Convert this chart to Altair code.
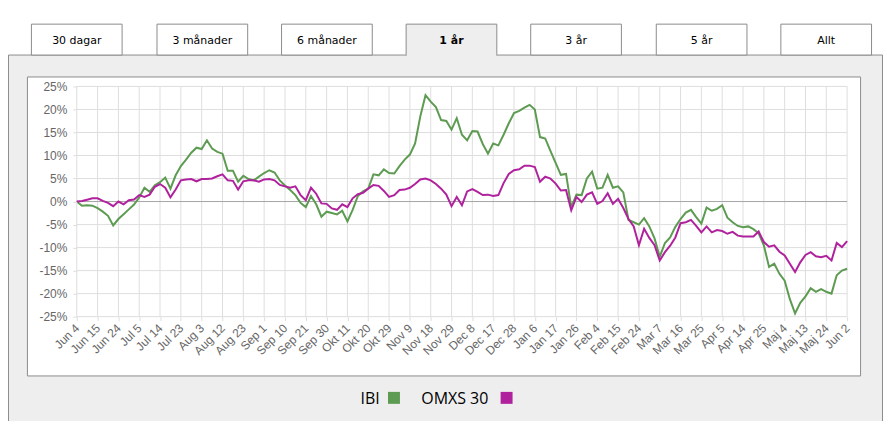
import math
import altair as alt
import pandas as pd

# ---------------- data ----------------
labels = ["Jun 4", "Jun 15", "Jun 24", "Jul 5", "Jul 14", "Jul 23", "Aug 3", "Aug 12",
          "Aug 23", "Sep 1", "Sep 10", "Sep 21", "Sep 30", "Okt 11", "Okt 20", "Okt 29",
          "Nov 9", "Nov 18", "Nov 29", "Dec 8", "Dec 17", "Dec 28", "Jan 6", "Jan 17",
          "Jan 26", "Feb 4", "Feb 15", "Feb 24", "Mar 7", "Mar 16", "Mar 25", "Apr 5",
          "Apr 14", "Apr 25", "Maj 4", "Maj 13", "Maj 24", "Jun 2"]

ibi = [0.0, -0.9, -0.8, -0.9, -1.45, -2.2, -3.1, -5.2,
       -3.8, -2.75, -1.7, -0.65, 0.9, 3.0, 2.1, 3.55,
       4.2, 5.2, 2.8, 5.7, 7.7, 9.1, 10.6, 11.7,
       11.4, 13.3, 11.5, 10.8, 10.4, 6.7, 6.7, 4.3,
       5.6, 4.9, 4.6, 5.4, 6.2, 6.8, 6.3, 4.6,
       3.5, 2.5, 1.4, -0.3, -1.2, 1.2, -0.6, -3.3,
       -2.2, -2.5, -2.8, -2.0, -4.3, -1.8, 1.2, 2.2,
       2.8, 5.9, 5.7, 7.0, 6.2, 6.1, 7.7, 9.1,
       10.2, 12.6, 18.5, 23.1, 21.7, 20.5, 17.7, 17.5,
       15.6, 18.1, 14.5, 13.3, 15.3, 15.2, 12.5, 10.4,
       12.6, 12.2, 14.5, 17.0, 19.2, 19.7, 20.4, 21.0,
       20.0, 14.0, 13.7, 11.0, 8.4, 5.8, 6.0, -1.2,
       1.5, 1.4, 5.0, 6.5, 2.8, 3.0, 5.8, 3.0,
       3.3, 2.0, -4.0, -4.5, -5.0, -3.6, -5.4, -8.0,
       -12.0, -9.0, -7.8, -5.5, -3.8, -2.4, -1.8, -3.4,
       -4.8, -1.3, -2.0, -1.6, -0.8, -3.5, -4.5, -5.3,
       -5.6, -5.4, -6.0, -6.9, -9.5, -14.2, -13.5, -15.7,
       -17.2, -21.2, -24.3, -22.0, -20.6, -18.8, -19.6, -19.0,
       -19.6, -20.0, -16.0, -15.0, -14.6]

omx = [0.0, 0.1, 0.4, 0.7, 0.7, 0.15, -0.3, -1.0,
       0.0, -0.6, 0.3, 0.45, 1.4, 1.0, 1.5, 3.2,
       3.8, 3.0, 0.9, 2.6, 4.6, 4.8, 4.9, 4.4,
       4.9, 4.9, 5.0, 5.5, 5.9, 4.6, 4.5, 2.6,
       4.4, 4.6, 4.6, 4.3, 4.8, 4.9, 4.6, 3.6,
       3.3, 3.0, 3.3, 1.4, 0.3, 3.0, 1.7, -0.4,
       -0.5, -1.5, -1.8, -0.6, -1.2, 0.7, 1.6, 1.9,
       2.8, 3.6, 3.4, 2.3, 1.0, 1.4, 2.5, 2.6,
       3.0, 3.8, 4.8, 5.0, 4.6, 3.8, 2.8, 1.5,
       -1.0, 1.0, -0.8, 2.2, 2.7, 2.1, 1.4, 1.5,
       1.2, 1.4, 4.0, 6.0, 6.8, 7.0, 7.8, 7.8,
       7.5, 4.3, 5.4, 5.0, 3.9, 2.4, 2.5, -1.9,
       1.0, -0.1, 1.5, 2.0, -0.5, 0.1, 1.8, -0.5,
       0.6, -1.4, -3.8, -5.4, -9.5, -5.9, -7.9, -9.5,
       -12.8, -11.0, -9.6, -7.8, -4.7, -4.5, -4.0, -5.3,
       -6.7, -5.4, -6.7, -6.2, -6.4, -7.0, -6.6, -7.4,
       -7.6, -7.6, -7.6, -6.5, -8.8, -9.8, -9.5, -10.9,
       -11.7, -13.5, -15.3, -13.2, -11.6, -11.0, -11.9, -12.1,
       -11.8, -12.8, -9.0, -9.9, -8.6]

series_names = ["IBI", "OMXS 30"]
series_colors = ["#5e9b52", "#b0229d"]
tabs = ["30 dagar", "3 månader", "6 månader", "1 år", "3 år", "5 år", "Allt"]
active_tab = "1 år"
y_ticks = [25, 20, 15, 10, 5, 0, -5, -10, -15, -20, -25]
points_per_label = 4

# ---------------- tables ----------------
rows = []
for name, vals in zip(series_names, [ibi, omx]):
    for i, v in enumerate(vals):
        rows.append({"x": i / points_per_label, "value": v, "series": name})
df = pd.DataFrame(rows)

W, H = 773, 231
xscale = alt.Scale(domain=[0, len(labels) - 1], nice=False, zero=False)
yscale = alt.Scale(domain=[min(y_ticks), max(y_ticks)], nice=False, zero=False)
one = pd.DataFrame({"k": [0]})

GRID = "#dedede"
BORDER = "#8c8c8c"
PANEL = "#eeeeee"

label_expr = "[" + ",".join("'" + l + "'" for l in labels) + "][datum.value]"
x_axis = alt.Axis(values=list(range(len(labels))), labelExpr=label_expr,
                  labelAngle=-45, labelAlign="right", labelBaseline="middle",
                  labelFont="Liberation Sans", labelFontSize=12, labelColor="#666666",
                  tickColor=GRID, tickSize=4, labelPadding=5, domain=False,
                  grid=False, title=None, labelOverlap=False, labelFlush=False,
                  zindex=1)
y_axis = alt.Axis(values=y_ticks, labelExpr="datum.value + '%'",
                  labelFont="Liberation Sans", labelFontSize=12, labelColor="#666666",
                  tickColor=GRID, tickSize=4, labelPadding=6, domain=False,
                  grid=False, title=None, labelOverlap=False, labelFlush=False,
                  zindex=1)


def box(x0, x1, y0, y1, fill, stroke=None):
    kw = {"fill": fill}
    if stroke:
        kw.update(stroke=stroke, strokeWidth=1)
    else:
        kw.update(strokeWidth=0)
    return alt.Chart(one).mark_rect(**kw).encode(
        x=alt.value(x0), x2=alt.value(x1), y=alt.value(y0), y2=alt.value(y1))


layers = []
# panel
layers.append(box(-68.5, 808.5, -31.5, 400, PANEL, BORDER))
# tabs
tab_texts = []
for i, t in enumerate(tabs):
    x0 = math.floor(-45.3 + 125.3 * i) + 0.5
    x1 = x0 + 91
    active = (t == active_tab)
    layers.append(box(x0, x1, -62.5, -31.5, PANEL if active else "#ffffff", BORDER))
    if active:
        layers.append(box(x0 + 0.5, x1 - 0.5, -32.5, -29.5, PANEL))
    tab_texts.append(
        alt.Chart(one).mark_text(align="center", baseline="alphabetic", font="DejaVu Sans",
                                 fontSize=11, color="#000000",
                                 fontWeight="bold" if active else "normal").encode(
            x=alt.value(x0 + 45.5), y=alt.value(-42.5), text=alt.value(t)))
# white chart box
layers.append(box(-49.5, 786.5, -9.5, 290.5, "#ffffff", BORDER))

# gridlines
vgrid = alt.Chart(pd.DataFrame({"x": list(range(len(labels)))})).mark_rule(
    color=GRID, strokeWidth=1).encode(x=alt.X("x:Q", scale=xscale, axis=x_axis))
hgrid = alt.Chart(pd.DataFrame({"value": [v for v in y_ticks if v != 0]})).mark_rule(
    color=GRID, strokeWidth=1).encode(y=alt.Y("value:Q", scale=yscale, axis=y_axis))
zero = alt.Chart(pd.DataFrame({"value": [0]})).mark_rule(
    color="#a6a6a6", strokeWidth=1).encode(y=alt.Y("value:Q", scale=yscale, axis=y_axis))
layers += [vgrid, hgrid, zero]

lines = alt.Chart(df).mark_line(strokeWidth=2, interpolate="linear").encode(
    x=alt.X("x:Q", scale=xscale, axis=x_axis),
    y=alt.Y("value:Q", scale=yscale, axis=y_axis),
    color=alt.Color("series:N", scale=alt.Scale(domain=series_names, range=series_colors),
                    legend=None),
)
layers.append(lines)

# legend (label followed by square)
leg = [(284.7, 312.3, series_names[0], series_colors[0]),
       (345.7, 425.3, series_names[1], series_colors[1])]
for tx, sx, name, col in leg:
    layers.append(alt.Chart(one).mark_text(align="left", baseline="alphabetic",
                                           font="Open Sans", fontSize=16,
                                           color="#000000").encode(
        x=alt.value(tx), y=alt.value(319), text=alt.value(name)))
    layers.append(box(sx, sx + 12, 306.5, 318.5, col))

layers += tab_texts

chart = alt.layer(*layers).properties(
    width=W, height=H,
    autosize=alt.AutoSizeParams(type="none"),
    padding={"left": 69, "top": 78, "right": 36, "bottom": 104},
    background="#ffffff",
).configure_view(stroke=None)

chart.save("out.html", embed_options={"renderer": "svg", "actions": False})
